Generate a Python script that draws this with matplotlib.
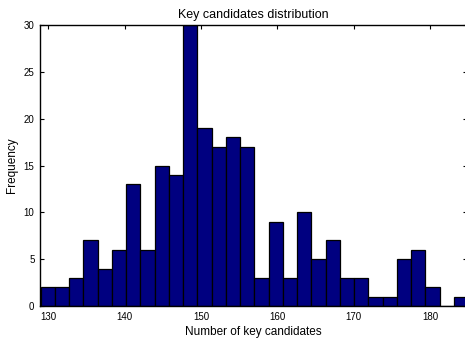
import numpy as np
import matplotlib
matplotlib.use('Agg')
import matplotlib.pyplot as plt

plt.rcParams['font.family'] = ['Liberation Sans', 'DejaVu Sans']

# histogram counts, 30 bins from 129 to 185
counts = [2, 2, 3, 7, 4, 6, 13, 6, 15, 14,
          30, 19, 17, 18, 17, 3, 9, 3, 10, 5,
          7, 3, 3, 1, 1, 5, 6, 2, 0, 1]
bin_min = 129
bin_max = 185
x_ticks = [130, 140, 150, 160, 170, 180]
y_ticks = [0, 5, 10, 15, 20, 25, 30]

edges = np.linspace(bin_min, bin_max, len(counts) + 1)
width = edges[1] - edges[0]

fig = plt.figure(figsize=(4.65, 3.39), dpi=100)
ax = fig.add_axes([40 / 465, 33 / 339, 427 / 465, 281 / 339])

ax.bar(edges[:-1], counts, width=width, align='edge',
       color='#000080', edgecolor='black', linewidth=0.9, zorder=2)

ax.set_xlim(128.9, 184.86)
ax.set_ylim(0, 30)
ax.set_xticks(x_ticks)
ax.set_yticks(y_ticks)
ax.tick_params(direction='in', top=True, right=True, length=3, width=0.8,
               labelsize=7, pad=4)
for s in ax.spines.values():
    s.set_linewidth(1.0)

ax.set_title('Key candidates distribution', fontsize=9, pad=5)
ax.set_xlabel('Number of key candidates', fontsize=8.5, labelpad=3)
ax.set_ylabel('Frequency', fontsize=8.5, labelpad=4)

fig.savefig('out.png', dpi=100)
